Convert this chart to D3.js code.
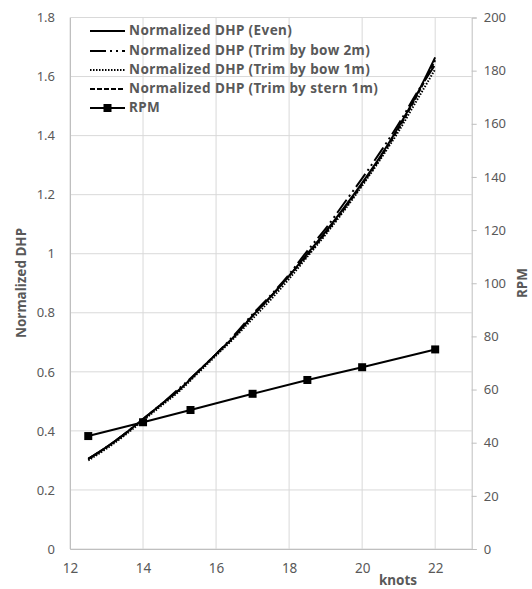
<!DOCTYPE html>
<html><head><meta charset="utf-8">
<script src="https://cdn.jsdelivr.net/npm/d3@7"></script>
<style>
html,body{margin:0;padding:0;background:#fff;}
text{font-family:"Noto Sans","Open Sans",sans-serif;}
</style></head>
<body><svg id="c" width="532" height="589"></svg>
<script>
const speeds = [12.5,13,13.5,14,14.5,15,15.5,16,16.5,17,17.5,18,18.5,19,19.5,20,20.5,21,21.5,22];
const dhpEven   = [0.305,0.345,0.39,0.44,0.49,0.54,0.60,0.66,0.72,0.79,0.855,0.925,1.0,1.075,1.155,1.24,1.33,1.43,1.54,1.665];
const dhpBow2   = [0.305,0.345,0.39,0.44,0.49,0.545,0.60,0.66,0.725,0.795,0.86,0.93,1.01,1.085,1.17,1.255,1.345,1.44,1.545,1.64];
const dhpBow1   = [0.30,0.34,0.385,0.435,0.485,0.535,0.595,0.655,0.715,0.78,0.845,0.915,0.99,1.065,1.145,1.23,1.32,1.415,1.52,1.625];
const dhpStern1 = [0.305,0.345,0.39,0.44,0.49,0.54,0.60,0.66,0.72,0.79,0.855,0.925,0.995,1.07,1.15,1.235,1.325,1.425,1.535,1.655];
const rpmSpeeds = [12.5,14,15.3,17,18.5,20,22];
const rpmValues = [42.5,47.7,52.3,58.4,63.6,68.4,75.1];
const seriesNames = ["Normalized DHP (Even)","Normalized DHP (Trim by bow 2m)","Normalized DHP (Trim by bow 1m)","Normalized DHP (Trim by stern 1m)","RPM"];
const xTicks = [12,14,16,18,20,22];
const yTicks = [0,0.2,0.4,0.6,0.8,1,1.2,1.4,1.6,1.8];
const y2Ticks = [0,20,40,60,80,100,120,140,160,180,200];

const svg = d3.select("#c");
const L=70, R=471.7, T=17.5, B=549;
const x = d3.scaleLinear().domain([12,23]).range([L,R]);
const y = d3.scaleLinear().domain([0,1.8]).range([B,T]);
const y2 = d3.scaleLinear().domain([0,200]).range([B,T]);
const grid="#d9d9d9", txt="#595959";

svg.append("g").selectAll("line").data(yTicks).join("line")
  .attr("x1",L).attr("x2",R).attr("y1",d=>y(d)).attr("y2",d=>y(d))
  .attr("stroke",grid).attr("stroke-width",1);
svg.append("g").selectAll("line").data(xTicks).join("line")
  .attr("x1",d=>x(d)).attr("x2",d=>x(d)).attr("y1",T).attr("y2",B)
  .attr("stroke",grid).attr("stroke-width",1);

const gx = svg.append("g").attr("transform",`translate(0,${B})`)
  .call(d3.axisBottom(x).tickValues(xTicks).tickSize(0).tickPadding(14));
const gy = svg.append("g").attr("transform",`translate(${L},0)`)
  .call(d3.axisLeft(y).tickValues(yTicks).tickSize(0).tickPadding(15).tickFormat(d3.format("~g")));
const gy2 = svg.append("g").attr("transform",`translate(${R},0)`)
  .call(d3.axisRight(y2).tickValues(y2Ticks).tickSize(5).tickPadding(7));
[gx,gy,gy2].forEach(g=>{
  g.select(".domain").attr("stroke","#bfbfbf");
  g.selectAll(".tick line").attr("stroke","#bfbfbf");
  g.selectAll("text").attr("fill",txt).attr("font-size","13px");
});
gx.selectAll("text").attr("font-size","13.5px");

svg.append("text").attr("transform","translate(22,283) rotate(-90)")
  .attr("text-anchor","middle").attr("dominant-baseline","middle")
  .attr("fill",txt).attr("font-size","13.5px").attr("font-weight","bold").text("Normalized DHP");
svg.append("text").attr("transform","translate(523,283) rotate(-90)")
  .attr("text-anchor","middle").attr("dominant-baseline","middle")
  .attr("fill",txt).attr("font-size","13.5px").attr("font-weight","bold").text("RPM");
svg.append("text").attr("x",398).attr("y",585)
  .attr("text-anchor","middle")
  .attr("fill",txt).attr("font-size","13.5px").attr("font-weight","bold").text("knots");

const dashes = [null,"16,4,2,4,2,4","1.5,1.5","5,2"];
const dhpSets = [dhpEven,dhpBow2,dhpBow1,dhpStern1];
const line = d3.line().x(d=>x(d[0])).y(d=>y(d[1])).curve(d3.curveMonotoneX);
dhpSets.forEach((vals,i)=>{
  svg.append("path").datum(speeds.map((s,j)=>[s,vals[j]]))
    .attr("d",line).attr("fill","none").attr("stroke","#000")
    .attr("stroke-width",2).attr("stroke-dasharray",dashes[i]);
});
const rline = d3.line().x(d=>x(d[0])).y(d=>y2(d[1]));
const rData = rpmSpeeds.map((s,j)=>[s,rpmValues[j]]);
svg.append("path").datum(rData).attr("d",rline).attr("fill","none")
  .attr("stroke","#000").attr("stroke-width",2);
svg.append("g").selectAll("rect").data(rData).join("rect")
  .attr("x",d=>x(d[0])-4).attr("y",d=>y2(d[1])-4).attr("width",8).attr("height",8).attr("fill","#000");

const ly = [31,51,70,89,108];
const lg = svg.append("g");
seriesNames.forEach((n,i)=>{
  lg.append("line").attr("x1",90).attr("x2",125).attr("y1",ly[i]).attr("y2",ly[i])
    .attr("stroke","#000").attr("stroke-width",2).attr("stroke-dasharray",i<4?dashes[i]:null);
  if(i===4) lg.append("rect").attr("x",103.5).attr("y",ly[i]-4).attr("width",8).attr("height",8).attr("fill","#000");
  lg.append("text").attr("x",129).attr("y",ly[i]).attr("dominant-baseline","middle")
    .attr("fill",txt).attr("font-size","13.5px").attr("font-weight","bold")
    .attr("letter-spacing","0.4px").text(n);
});
</script></body></html>
